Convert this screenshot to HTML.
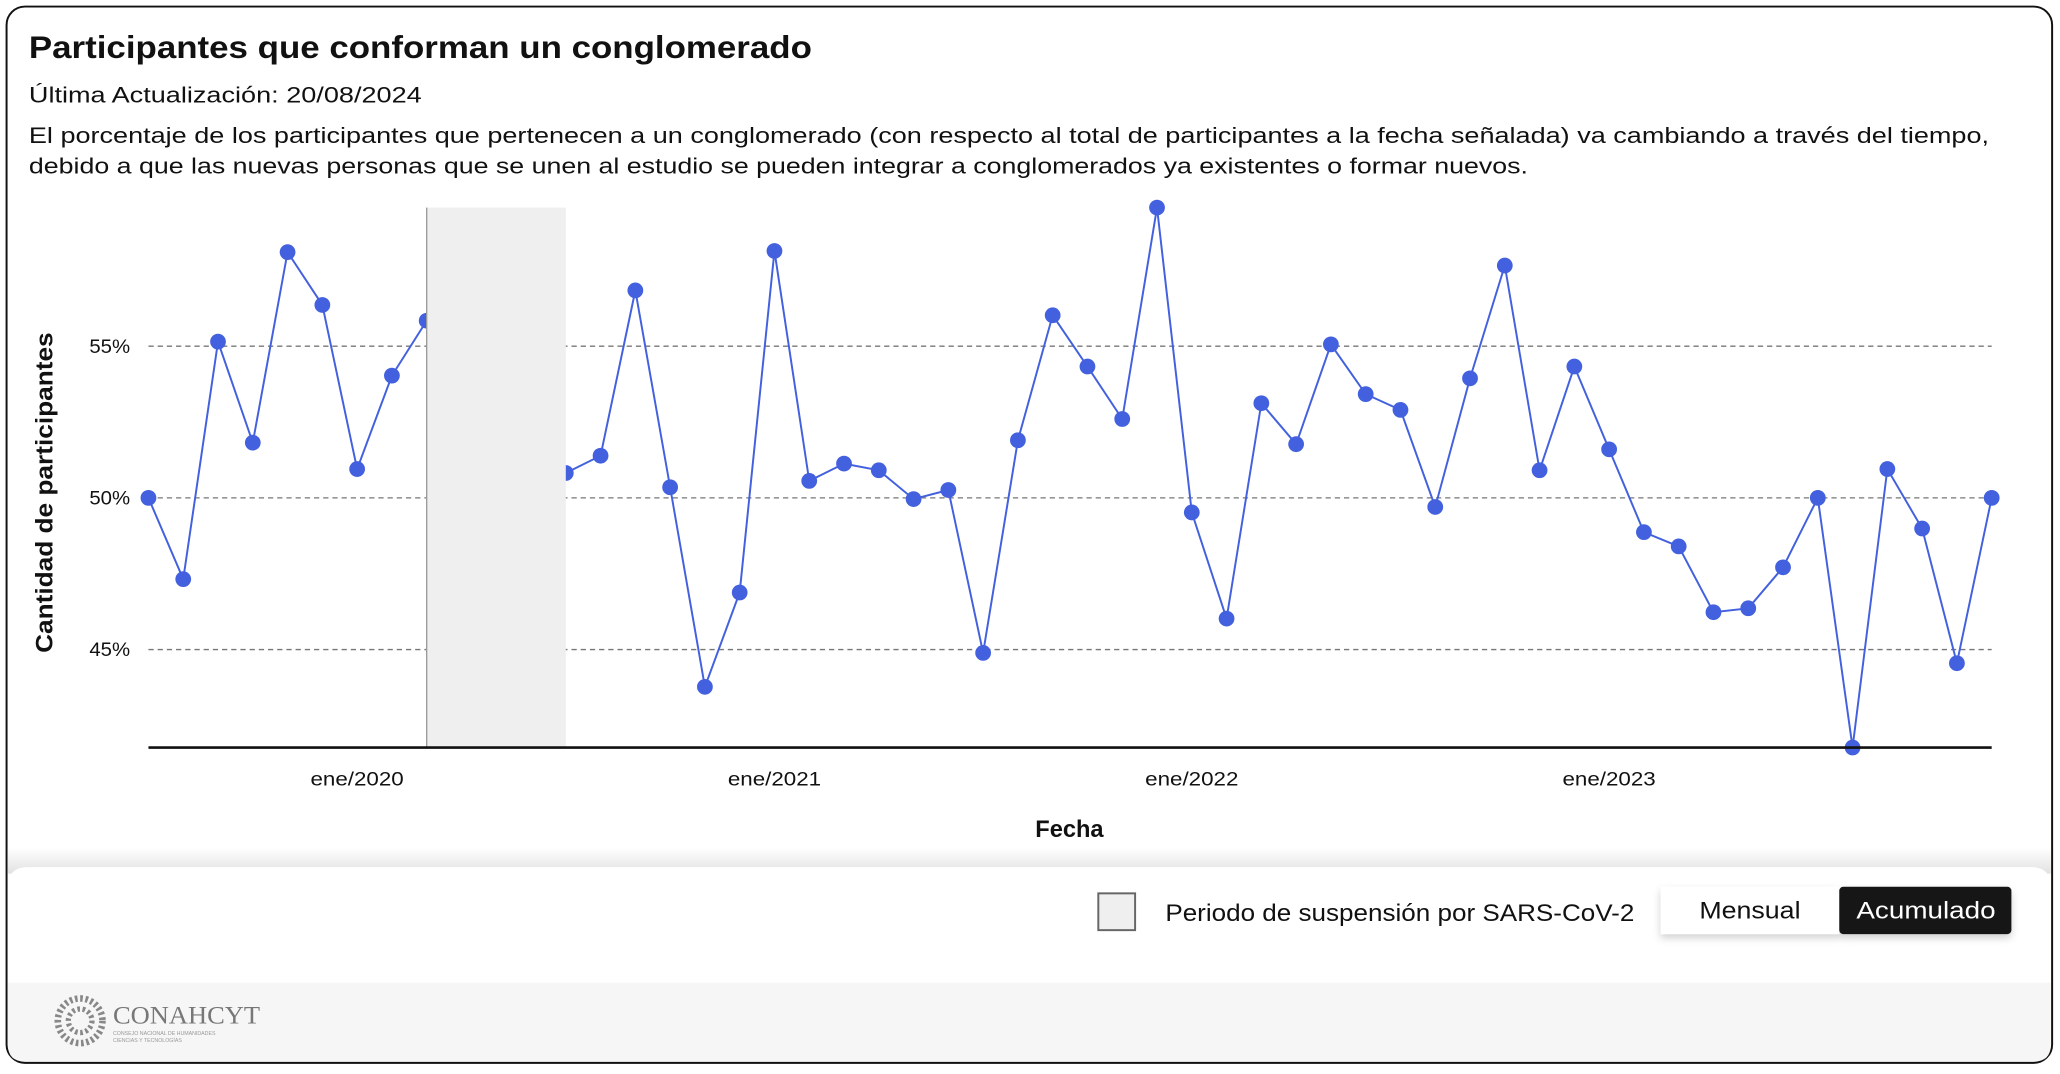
<!DOCTYPE html>
<html><head><meta charset="utf-8">
<style>
html,body{margin:0;padding:0;background:#fff;}
svg{display:block;font-family:"Liberation Sans",sans-serif;}
</style></head>
<body>
<svg id="chart" width="2060" height="1074" viewBox="0 0 1568 817.5" preserveAspectRatio="none" xmlns="http://www.w3.org/2000/svg">
<defs>
<linearGradient id="sh" x1="0" y1="0" x2="0" y2="1"><stop offset="0" stop-color="#fff"/><stop offset="1" stop-color="#e2e2e2"/></linearGradient>
<filter id="bs" x="-10%" y="-30%" width="120%" height="170%"><feDropShadow dx="0" dy="3" stdDeviation="3" flood-color="#000" flood-opacity="0.18"/></filter>
</defs>
<rect x="5" y="5" width="1557" height="804" rx="14" fill="#fff" stroke="#111" stroke-width="1.5"/>
<text x="22" y="44" font-size="24" font-weight="bold" fill="#111" textLength="596" lengthAdjust="spacingAndGlyphs">Participantes que conforman un conglomerado</text>
<text x="22" y="78" font-size="17" fill="#111" textLength="299" lengthAdjust="spacingAndGlyphs">Última Actualización: 20/08/2024</text>
<text x="22" y="109" font-size="17" fill="#111" textLength="1492" lengthAdjust="spacingAndGlyphs">El porcentaje de los participantes que pertenecen a un conglomerado (con respecto al total de participantes a la fecha señalada) va cambiando a través del tiempo,</text>
<text x="22" y="132" font-size="17" fill="#111" textLength="1141" lengthAdjust="spacingAndGlyphs">debido a que las nuevas personas que se unen al estudio se pueden integrar a conglomerados ya existentes o formar nuevos.</text>
<g id="plot"></g>
<text transform="translate(40,375) rotate(-90)" text-anchor="middle" font-size="18" font-weight="bold" fill="#111" textLength="244" lengthAdjust="spacingAndGlyphs">Cantidad de participantes</text>
<text x="814" y="637" text-anchor="middle" font-size="18" font-weight="bold" fill="#111">Fecha</text>
<rect x="6" y="645" width="1555" height="20" fill="url(#sh)"/>
<path d="M6 675 Q6 660 21 660 L1546 660 Q1561 660 1561 675 L1561 748 L6 748 Z" fill="#fff"/>
<path d="M6 748 L1561 748 L1561 795 Q1561 808 1548 808 L19 808 Q6 808 6 795 Z" fill="#f6f6f6"/>
<rect x="836" y="680" width="28" height="28" fill="#efefef" stroke="#666" stroke-width="1.5"/>
<text x="887" y="701" font-size="18" fill="#111" textLength="357" lengthAdjust="spacingAndGlyphs">Periodo de suspensión por SARS-CoV-2</text>
<g filter="url(#bs)">
<rect x="1264" y="675" width="136" height="36" fill="#fff"/>
<rect x="1400" y="675" width="131" height="36" rx="3" fill="#141414"/>
</g>
<text x="1332" y="699" text-anchor="middle" font-size="18" fill="#111" textLength="77" lengthAdjust="spacingAndGlyphs">Mensual</text>
<text x="1466" y="699" text-anchor="middle" font-size="18" fill="#fff" textLength="106" lengthAdjust="spacingAndGlyphs">Acumulado</text>
<g fill="#777">
<circle cx="61" cy="777" r="17" fill="none" stroke="#888" stroke-width="5" stroke-dasharray="2 2"/>
<circle cx="61" cy="777" r="9" fill="none" stroke="#888" stroke-width="4" stroke-dasharray="2 2"/>
<text x="86" y="779" font-size="19" font-family="Liberation Serif,serif" fill="#777" textLength="112" lengthAdjust="spacingAndGlyphs">CONAHCYT</text>
<text x="86" y="788" font-size="4" fill="#999">CONSEJO NACIONAL DE HUMANIDADES</text>
<text x="86" y="793" font-size="4" fill="#999">CIENCIAS Y TECNOLOGÍAS</text>
</g>
</svg>
<script>
const values = [50.0,47.32,55.15,51.82,58.10,56.36,50.95,54.03,55.84,null,null,null,
50.82,51.39,56.84,50.35,43.77,46.88,58.14,50.56,51.13,50.91,49.96,50.26,
44.89,51.90,56.02,54.33,52.60,59.57,49.52,46.02,53.12,51.77,55.06,53.42,
52.90,49.70,53.94,57.66,50.91,54.33,51.60,48.87,48.40,46.23,46.36,47.71,
50.00,41.77,50.95,48.99,44.55,50.00];
const yTicks = [45, 50, 55];
const yTickLabels = ["45%", "50%", "55%"];
const xTickIndex = [6, 18, 30, 42];
const xTickLabels = ["ene/2020", "ene/2021", "ene/2022", "ene/2023"];
const suspension = [8, 12];

const NS = "http://www.w3.org/2000/svg";
const g = document.getElementById("plot");
const X0 = 113, X1 = 1516, Y0 = 569, Y1 = 158;
const nums = values.filter(v => v !== null);
const vmin = Math.min(...nums), vmax = Math.max(...nums);
const x = i => X0 + (X1 - X0) * i / (values.length - 1);
const y = v => Y0 - (Y0 - Y1) * (v - vmin) / (vmax - vmin);
function mk(tag, attrs) { const e = document.createElementNS(NS, tag); for (const k in attrs) e.setAttribute(k, attrs[k]); g.appendChild(e); return e; }

yTicks.forEach((t, i) => {
  const l = mk("line", {x1: X0, x2: X1, y1: y(t), y2: y(t), stroke: "#777", "stroke-width": 1, "stroke-dasharray": "4 3"});
  
  
  const tx = mk("text", {x: 99, y: y(t) + 5, "text-anchor": "end", "font-size": 15, fill: "#111", textLength: 31, lengthAdjust: "spacingAndGlyphs"});
  tx.textContent = yTickLabels[i];
  
  
});
xTickIndex.forEach((ix, i) => {
  const tx = mk("text", {x: x(ix), y: 598, "text-anchor": "middle", "font-size": 15, fill: "#111", textLength: 71, lengthAdjust: "spacingAndGlyphs"});
  tx.textContent = xTickLabels[i];
  
  
});
let segs = [], cur = [];
values.forEach((v, i) => { if (v === null) { if (cur.length) segs.push(cur); cur = []; } else cur.push(x(i) + "," + y(v)); });
if (cur.length) segs.push(cur);
segs.forEach(s => {
  const p = mk("polyline", {points: s.join(" "), fill: "none", stroke: "#4361de", "stroke-width": 1.5});
  
  
});
values.forEach((v, i) => {
  if (v === null) return;
  const c = mk("circle", {cx: x(i), cy: y(v), r: 6, fill: "#4361de"});
  
  
});
const r = mk("rect", {x: x(suspension[0]), y: Y1, width: x(suspension[1]) - x(suspension[0]), height: Y0 - Y1, fill: "#efefef"});


const rl = mk("line", {x1: x(suspension[0]), x2: x(suspension[0]), y1: Y1, y2: Y0, stroke: "#999", "stroke-width": 1});


const ax = mk("line", {x1: X0, x2: X1, y1: Y0, y2: Y0, stroke: "#111", "stroke-width": 2});


</script>
</body></html>
